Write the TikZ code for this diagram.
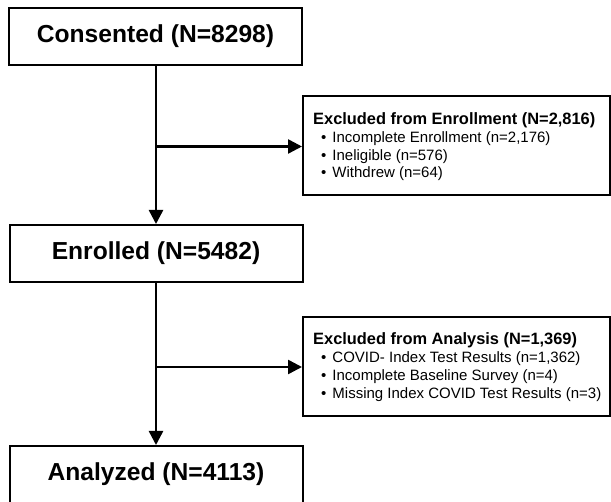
\documentclass[tikz,border=0pt]{standalone}
\usepackage{fontspec}
\setmainfont{Liberation Sans}
\usetikzlibrary{arrows.meta}
\begin{document}
\begin{tikzpicture}[x=1pt,y=-1pt,
  box/.style={draw, line width=2pt, inner sep=0pt},
  mainbox/.style={box, minimum width=293pt, minimum height=57pt, font=\fontsize{24.6}{28}\selectfont\bfseries},
  exbox/.style={box, minimum width=307pt, minimum height=99pt},
  extitle/.style={anchor=base west, inner sep=0pt, font=\fontsize{16.4}{19}\selectfont\bfseries},
  exitem/.style={anchor=base west, inner sep=0pt, font=\fontsize{15}{18}\selectfont},
  conn/.style={line width=2.5pt},
  arr/.style={conn, -{Triangle[length=14pt,width=14pt]}}]
\clip (0,0) rectangle (611,502);
\node[mainbox] (cons) at (155.5,36.5) {Consented (N=8298)};
\node[mainbox] (enr) at (156,253.5) {Enrolled (N=5482)};
\node[mainbox] (ana) at (156,474.5) {Analyzed (N=4113)};
\node[exbox] (ex1) at (456.5,145.5) {};
\node[exbox] (ex2) at (456.5,366.5) {};
\node[extitle] (ex1a) at (313,125) {Excluded from Enrollment (N=2,816)};
\node[exitem] (ex1b) at (321,143) {\textbullet\hspace{6pt}Incomplete Enrollment (n=2,176)};
\node[exitem] (ex1c) at (321,161) {\textbullet\hspace{6pt}Ineligible (n=576)};
\node[exitem] (ex1d) at (321,178) {\textbullet\hspace{6pt}Withdrew (n=64)};
\node[extitle] (ex2a) at (313,345) {Excluded from Analysis (N=1,369)};
\node[exitem] (ex2b) at (321,363) {\textbullet\hspace{6pt}COVID- Index Test Results (n=1,362)};
\node[exitem] (ex2c) at (321,381) {\textbullet\hspace{6pt}Incomplete Baseline Survey (n=4)};
\node[exitem] (ex2d) at (321,399) {\textbullet\hspace{6pt}Missing Index COVID Test Results (n=3)};
\coordinate (j1) at (156,146.5);
\coordinate (j2) at (156,367);
\draw[arr] (enr.north |- cons.south) -- (enr.north);
\draw[arr] (enr.south) -- (ana.north);
\draw[arr] (j1) -- (ex1.west |- j1);
\draw[arr] (j2) -- (ex2.west |- j2);
\end{tikzpicture}
\end{document}
